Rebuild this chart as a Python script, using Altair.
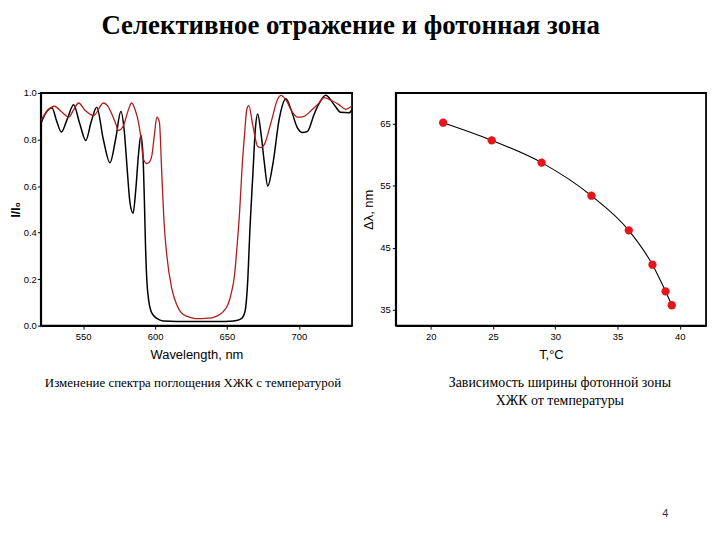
import altair as alt
import pandas as pd

# ---------------- data ----------------
black_wl = [520.5, 524, 528.3, 531.5, 534.8, 539, 543.3, 547.5, 551.8, 555.5, 559.4, 564, 568.6,
            572.5, 576.2, 578.5, 580.5, 582.5, 584.7, 586.5, 588.5, 590.1, 591.5, 592.5, 593.3,
            594.2, 595.5, 597, 598.8, 601, 603, 605.7, 615, 630, 645, 652, 656.5, 660, 662.5,
            664.5, 666, 668, 669.8, 671.3, 673.8, 676, 678.4, 681.8, 686.4, 691, 694.5, 699,
            702.6, 706, 710.7, 714.5, 718.7, 724.5, 729, 735, 737]
black_i = [0.868, 0.915, 0.935, 0.88, 0.832, 0.89, 0.949, 0.87, 0.796, 0.875, 0.939, 0.80, 0.70,
           0.80, 0.92, 0.84, 0.68, 0.53, 0.483, 0.58, 0.74, 0.818, 0.74, 0.55, 0.35,
           0.20, 0.11, 0.065, 0.045, 0.032, 0.025, 0.02, 0.018, 0.018, 0.018, 0.019, 0.022, 0.03, 0.06,
           0.2, 0.42, 0.65, 0.85, 0.91, 0.82, 0.70, 0.60, 0.69, 0.89, 0.975, 0.93, 0.85,
           0.83, 0.835, 0.91, 0.96, 0.99, 0.95, 0.917, 0.915, 0.93]

red_wl = [520.5, 524, 529.9, 535.3, 539.9, 543.5, 546.8, 551.4, 557.2, 564.1, 567, 569.9, 572.5,
          574.5, 578, 581, 583.7, 586, 588.4, 590.3, 591.7, 594, 595.5, 597.7, 599.5, 601.2, 603,
          604.6, 606.2, 608.1, 611.5, 615, 619.6, 625.4, 630, 635, 640, 645, 648, 650.7, 653,
          655.3, 657, 658.8, 660.5, 662.2, 663.8, 665.2, 668, 671.4, 673.8, 676.1, 680.7, 685.3,
          687.6, 691, 695.6, 699.1, 703.7, 709.5, 714.1, 717.6, 722.2, 727.9, 732.5, 737]
red_i = [0.88, 0.915, 0.943, 0.917, 0.896, 0.93, 0.957, 0.925, 0.903, 0.957, 0.945, 0.910, 0.87,
         0.839, 0.86, 0.92, 0.957, 0.93, 0.875, 0.80, 0.72, 0.697, 0.70, 0.73, 0.82, 0.896, 0.875,
         0.66, 0.447, 0.305, 0.162, 0.091, 0.048, 0.034, 0.03, 0.031, 0.035, 0.048, 0.065, 0.091, 0.14,
         0.22, 0.34, 0.49, 0.68, 0.82, 0.93, 0.946, 0.86, 0.77, 0.765, 0.78, 0.875, 0.974,
         0.99, 0.97, 0.917, 0.896, 0.90, 0.93, 0.957, 0.98, 0.97, 0.95, 0.93, 0.945]

temp_c = [21.0, 24.9, 28.9, 32.9, 35.9, 37.8, 38.85, 39.35]
band_width = [65.2, 62.35, 58.75, 53.4, 47.8, 42.25, 37.95, 35.7]

wl_ticks = [550, 600, 650, 700]
i_ticks = [round(i * 0.1, 1) for i in range(11)]
t_ticks = [20, 25, 30, 35, 40]
dl_ticks = [35, 40, 45, 50, 55, 60, 65, 70]

title_text = "Селективное отражение и фотонная зона"
caption_left = "Изменение спектра поглощения ХЖК с температурой"
caption_right_1 = "Зависимость ширины фотонной зоны"
caption_right_2 = "ХЖК от температуры"
page_no = "4"

SANS = "Liberation Sans"
SERIF = "Liberation Serif"

df_black = pd.DataFrame({"wl": black_wl, "i": black_i})
df_red = pd.DataFrame({"wl": red_wl, "i": red_i})
df_dl = pd.DataFrame({"t": temp_c, "dl": band_width})
df_txt = pd.DataFrame({"a": [caption_left], "b": [caption_right_1], "c": [caption_right_2], "p": [page_no]})

axis_common = dict(
    labelFont=SANS, labelFontSize=9.5, labelColor="black",
    titleFont=SANS, titleColor="black",
    domainColor="black", domainWidth=1.6,
    tickColor="black", tickWidth=1,
    grid=False, labelFlush=False, labelOverlap=False,
)

# ---------------- left chart ----------------
x_wl = alt.X(
    "wl:Q",
    scale=alt.Scale(domain=[520.5, 737], nice=False, zero=False),
    axis=alt.Axis(
        values=wl_ticks, format="d", tickSize=3.5, labelPadding=2,
        title="Wavelength, nm", titleFontSize=13, titleFontWeight="normal", titlePadding=8,
        **axis_common,
    ),
)
y_i = alt.Y(
    "i:Q",
    scale=alt.Scale(domain=[0, 1], nice=False),
    axis=alt.Axis(
        values=i_ticks,
        labelExpr="round(datum.value*10) % 2 == 0 ? format(datum.value, '.1f') : ''",
        tickSize=3.5, labelPadding=1,
        title="I/I₀", titleFontSize=12, titleFontWeight="bold", titlePadding=1,
        **axis_common,
    ),
)

black_line = alt.Chart(df_black).mark_line(
    color="black", strokeWidth=1.5, interpolate="monotone", clip=True
).encode(x=x_wl, y=y_i)
red_line = alt.Chart(df_red).mark_line(
    color="#b01c1c", strokeWidth=1.3, interpolate="monotone", clip=True
).encode(x="wl:Q", y="i:Q")
cap_left = alt.Chart(df_txt).mark_text(
    font=SERIF, fontSize=13, color="black", align="center", baseline="middle"
).encode(text="a:N", x=alt.value(153), y=alt.value(292))

left = alt.layer(black_line, red_line, cap_left).properties(width=313, height=234)

# ---------------- right chart ----------------
x_t = alt.X(
    "t:Q",
    scale=alt.Scale(domain=[17.2, 42.1], nice=False, zero=False),
    axis=alt.Axis(
        values=t_ticks, format="d", tickSize=3.5, labelPadding=2,
        title="T,°C", titleFontSize=13, titleFontWeight="normal", titlePadding=8,
        **axis_common,
    ),
)
y_dl = alt.Y(
    "dl:Q",
    scale=alt.Scale(domain=[32.4, 70], nice=False, zero=False),
    axis=alt.Axis(
        values=dl_ticks, format="d", tickSize=3.5, labelPadding=2,
        title="Δλ, nm", titleFontSize=13, titleFontWeight="normal", titlePadding=4,
        **axis_common,
    ),
)

fit_line = alt.Chart(df_dl).mark_line(
    color="black", strokeWidth=1.1, interpolate="monotone"
).encode(x=x_t, y=y_dl)
pts = alt.Chart(df_dl).mark_circle(color="#e3161b", opacity=1, size=70).encode(x="t:Q", y="dl:Q")
cap_r1 = alt.Chart(df_txt).mark_text(
    font=SERIF, fontSize=14, color="black", align="center", baseline="middle"
).encode(text="b:N", x=alt.value(165), y=alt.value(292))
cap_r2 = alt.Chart(df_txt).mark_text(
    font=SERIF, fontSize=14, color="black", align="center", baseline="middle"
).encode(text="c:N", x=alt.value(165), y=alt.value(310))
page = alt.Chart(df_txt).mark_text(
    font=SANS, fontSize=11, color="#333333", align="center", baseline="middle"
).encode(text="p:N", x=alt.value(271), y=alt.value(423))

right = alt.layer(fit_line, pts, cap_r1, cap_r2, page).properties(width=312, height=234)

chart = alt.hconcat(left, right, spacing=9).properties(
    title=alt.TitleParams(
        title_text, font=SERIF, fontSize=27, fontWeight="bold", color="black",
        anchor="middle", offset=47, dx=-7,
    ),
    padding={"left": 0, "top": 3, "right": 5, "bottom": 5},
).configure_view(
    stroke="black", strokeWidth=1.8
).configure_axis(
    labelOverlap=False
)

chart.save("out.html", embed_options={"renderer": "svg", "actions": False})
